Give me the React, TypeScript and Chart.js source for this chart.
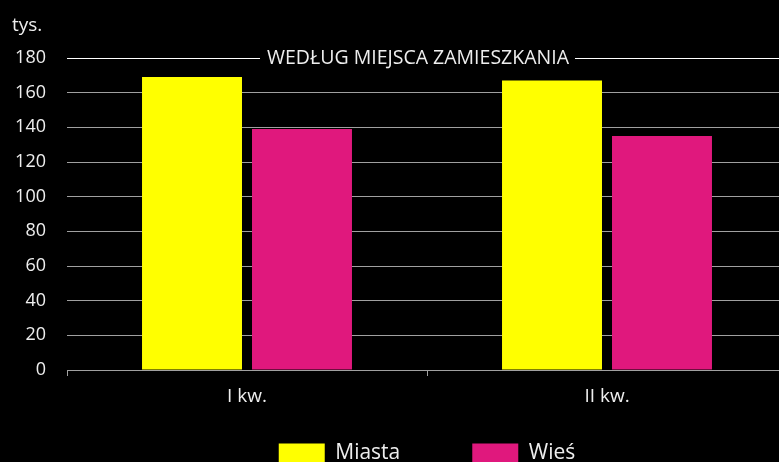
import React, { useEffect, useRef } from 'react';
import { Chart, registerables } from 'chart.js';

Chart.register(...registerables);

const categories = ['I kw.', 'II kw.'];
const seriesNames = ['Miasta', 'Wieś'];
const miasta = [169, 167];
const wies = [139, 135];
const seriesColors = ['#ffff00', '#e0187d'];
const yMin = 0;
const yMax = 180;
const yStep = 20;
const unitLabel = 'tys.';
const subtitle = 'WEDŁUG MIEJSCA ZAMIESZKANIA';

const FONT = '"Open Sans", "Noto Sans", sans-serif';
const TEXT = '#eeeeee';
const GRID = '#a0a0a0';

const overlay = {
  id: 'overlay',
  afterDraw(chart: any) {
    const { ctx, chartArea, scales } = chart;
    const y = Math.round(scales.y.getPixelForValue(yMax)) + 0.5;
    ctx.save();
    ctx.font = `19.5px ${FONT}`;
    const tw = ctx.measureText(subtitle).width;
    const cx = 418;
    ctx.strokeStyle = '#ffffff';
    ctx.lineWidth = 1;
    ctx.beginPath();
    ctx.moveTo(chartArea.left, y);
    ctx.lineTo(cx - tw / 2 - 7, y);
    ctx.moveTo(cx + tw / 2 + 6, y);
    ctx.lineTo(chartArea.right, y);
    ctx.stroke();
    ctx.fillStyle = TEXT;
    ctx.textAlign = 'center';
    ctx.textBaseline = 'middle';
    ctx.fillText(subtitle, cx, y);
    ctx.font = `19px ${FONT}`;
    ctx.textAlign = 'left';
    ctx.textBaseline = 'alphabetic';
    ctx.fillText(unitLabel, 12, 31);
    ctx.restore();
  },
};

export default function App() {
  const ref = useRef<HTMLCanvasElement>(null);
  useEffect(() => {
    if (!ref.current) return;
    const chart = new Chart(ref.current, {
      type: 'bar',
      data: {
        labels: categories,
        datasets: [
          { label: seriesNames[0], data: miasta, backgroundColor: seriesColors[0], categoryPercentage: 0.611, barPercentage: 0.909 },
          { label: seriesNames[1], data: wies, backgroundColor: seriesColors[1], categoryPercentage: 0.611, barPercentage: 0.909 },
        ],
      },
      options: {
        responsive: false,
        animation: false,
        devicePixelRatio: 1,
        layout: { padding: { top: 58, left: 0, right: 3, bottom: 0 } },
        plugins: {
          legend: {
            position: 'bottom',
            fullSize: false,
            labels: { boxWidth: 46, boxHeight: 20, padding: 72, color: TEXT, font: { family: FONT, size: 21 } },
          },
          tooltip: { enabled: false },
          title: { display: false },
        },
        scales: {
          x: {
            grid: { drawOnChartArea: false, drawTicks: true, tickLength: 6, color: GRID, offset: true },
            border: { display: true, color: GRID },
            ticks: { color: TEXT, font: { family: FONT, size: 19 }, mirror: true, padding: -38.4, autoSkip: false, maxRotation: 0 },
            afterFit: (s: any) => { s.height = 1; },
          },
          y: {
            min: yMin,
            max: yMax,
            ticks: { stepSize: yStep, color: TEXT, font: { family: FONT, size: 18 }, padding: 21 },
            grid: {
              drawTicks: false,
              color: (c: any) => (c.tick && c.tick.value === yMax ? 'rgba(0,0,0,0)' : GRID),
            },
            border: { display: false },
            afterFit: (s: any) => { s.width = 67; },
          },
        },
      },
      plugins: [overlay],
    } as any);
    return () => chart.destroy();
  }, []);
  return (
    <div style={{ position: 'fixed', left: 0, top: 0, width: 779, height: 462, overflow: 'hidden', background: '#000' }}>
      <canvas ref={ref} width={790} height={474} style={{ display: 'block' }} />
    </div>
  );
}
